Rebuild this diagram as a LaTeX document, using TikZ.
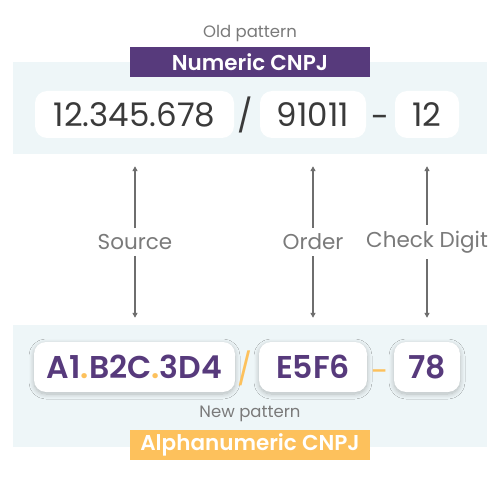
\documentclass[tikz,border=0pt]{standalone}
\usepackage{fontspec}
\setmainfont{Poppins}[BoldFont={Poppins SemiBold}]
\usetikzlibrary{arrows.meta,shadows.blur}
\definecolor{band}{HTML}{EEF6F8}
\definecolor{purp}{HTML}{573A7C}
\definecolor{oran}{HTML}{FDC15C}
\definecolor{dark}{HTML}{3A3A3A}
\definecolor{lbl}{HTML}{7A7A7A}
\definecolor{arrc}{HTML}{6E6E6E}
\tikzset{
  wbox/.style={fill=white, rounded corners=12pt, inner sep=0pt, anchor=center},
  numtxt/.style={text=dark, font=\fontsize{32.5}{34}\selectfont, inner sep=0pt},
  newtxt/.style={text=purp, font=\fontsize{31.5}{34}\selectfont\bfseries, inner sep=0pt},
  small/.style={text=lbl, font=\fontsize{16.5}{18}\selectfont, inner sep=0pt},
  midlbl/.style={text=lbl, font=\fontsize{21.5}{23}\selectfont, inner sep=0pt},
  tag/.style={text=white, font=\fontsize{21.5}{23}\selectfont\bfseries, inner sep=0pt, minimum width=240pt, minimum height=30pt},
  arr/.style={draw=arrc, line width=1.3pt, -{Triangle[length=5pt,width=5pt]}},
  shad/.style={blur shadow={shadow xshift=0pt, shadow yshift=-2pt, shadow blur steps=8, shadow blur radius=5pt, shadow opacity=25}}
}
\begin{document}
\begin{tikzpicture}[x=1pt,y=-1pt]
\useasboundingbox[fill=white] (0,0) rectangle (501,500);
% bands
\fill[band] (13,62) rectangle (487,154);
\fill[band] (13,325) rectangle (487,447);
% top header
\node[small] (old) at (250,34) {Old pattern};
\node[tag, fill=purp] (numtag) at (250,62) {Numeric CNPJ};
% top boxes
\node[wbox, minimum width=199pt, minimum height=47pt] (b1) at (134.5,114.5) {};
\node[wbox, minimum width=106pt, minimum height=47pt] (b2) at (313,114.5) {};
\node[wbox, minimum width=64pt, minimum height=47pt] (b3) at (427,114.5) {};
\node[numtxt] (t1) at (b1) {12.345.678};
\node[numtxt] (t2) at (b2) {91011};
\node[numtxt] (t3) at (b3) {12};
\node[numtxt] (sl1) at (245,114.5) {/};
\node[numtxt] (da1) at (380,121.5) {-};
% bottom boxes
\node[wbox, shad, minimum width=201pt, minimum height=50pt] (c1) at (134.5,367) {};
\node[wbox, shad, minimum width=108pt, minimum height=50pt] (c2) at (313,367) {};
\node[wbox, shad, minimum width=66pt, minimum height=50pt] (c3) at (427,367) {};
\node[newtxt] (u1) at (c1) {A1\textcolor{oran}{.}B2C\textcolor{oran}{.}3D4};
\node[newtxt] (u2) at (c2) {E5F6};
\node[newtxt] (u3) at (c3) {78};
\node[text=oran, font=\fontsize{31.5}{34}\selectfont, inner sep=0pt] (sl2) at (245,368) {/};
\node[text=oran, font=\fontsize{31.5}{34}\selectfont, inner sep=0pt] (da2) at (380,376) {-};
% bottom header
\node[small] (new) at (250,414) {New pattern};
\node[tag, fill=oran] (alftag) at (250,445) {Alphanumeric CNPJ};
% middle labels
\node[midlbl] (src) at (135,242) {Source};
\node[midlbl] (ord) at (313,242) {Order};
\node[midlbl] (chk) at (427,242) {Check Digit};
% arrows
\draw[arr, shorten <=6pt, shorten >=28pt] (src.north) -- (src.north |- b1.south);
\draw[arr, shorten <=6pt, shorten >=24pt] (src.south) -- (src.south |- c1.north);
\draw[arr, shorten <=6pt, shorten >=28pt] (ord.north) -- (ord.north |- b2.south);
\draw[arr, shorten <=6pt, shorten >=24pt] (ord.south) -- (ord.south |- c2.north);
\draw[arr, shorten <=6pt, shorten >=28pt] (chk.north) -- (chk.north |- b3.south);
\draw[arr, shorten <=6pt, shorten >=24pt] (chk.south) -- (chk.south |- c3.north);
\end{tikzpicture}
\end{document}
